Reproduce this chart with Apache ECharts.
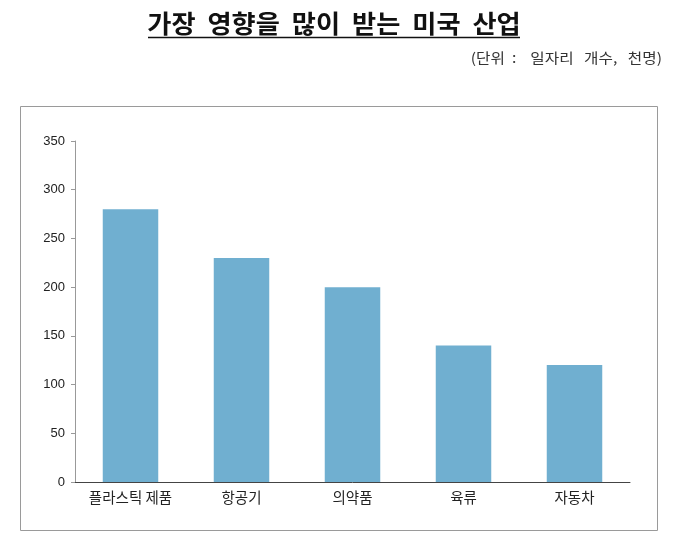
<!DOCTYPE html>
<html>
<head>
<meta charset="utf-8">
<script src="https://cdn.jsdelivr.net/npm/echarts@6/dist/echarts.min.js"></script>
<style>
  html, body { margin: 0; padding: 0; background: #fff; }
  #chart { width: 680px; height: 545px; }
</style>
</head>
<body>
<div id="chart"></div>
<script>
// Data
var categories = ['플라스틱 제품', '항공기', '의약품', '육류', '자동차'];
var jobs = [280, 230, 200, 140, 120];
var yTicks = [0, 350, 50];  // min, max, interval

var titleText = '가장  영향을  많이  받는  미국  산업';
var unitText = '(단위  :    일자리   개수,   천명)';

var krFont = '"Noto Sans CJK KR", "Noto Sans", sans-serif';

var chart = echarts.init(document.getElementById('chart'));

chart.setOption({
    animation: false,
    graphic: [{
        // title, slightly stretched like the original
        type: 'text',
        x: 334,
        y: 23,
        scaleX: 1.05,
        style: {
            text: titleText,
            font: 'bold 25px ' + krFont,
            fill: '#111',
            align: 'center',
            verticalAlign: 'middle'
        }
    }, {
        type: 'line',
        shape: { x1: 148, y1: 37.5, x2: 520, y2: 37.5 },
        style: { stroke: '#111', lineWidth: 1.5 }
    }, {
        // unit note
        type: 'text',
        x: 662,
        y: 58,
        scaleX: 1.12,
        style: {
            text: unitText,
            font: '14px ' + krFont,
            fill: '#333',
            align: 'right',
            verticalAlign: 'middle'
        }
    }, {
        type: 'rect',
        shape: { x: 20.5, y: 106.5, width: 637, height: 424 },
        style: { fill: 'none', stroke: '#9a9a9a', lineWidth: 1 },
        z: -1
    }],
    grid: {
        left: 75,
        right: 50,
        top: 141,
        bottom: 63
    },
    xAxis: {
        type: 'category',
        data: categories,
        axisLine: { lineStyle: { color: '#444', width: 1 } },
        axisTick: { show: false },
        axisLabel: {
            fontFamily: krFont,
            fontSize: 14.5,
            color: '#222',
            margin: 8
        }
    },
    yAxis: {
        type: 'value',
        min: yTicks[0],
        max: yTicks[1],
        interval: yTicks[2],
        axisLine: { show: true, lineStyle: { color: '#999' } },
        axisTick: { show: true, length: 4, lineStyle: { color: '#999' } },
        splitLine: { show: false },
        axisLabel: {
            fontFamily: '"Liberation Sans", Arial, sans-serif',
            fontSize: 13,
            color: '#222',
            margin: 10
        }
    },
    series: [{
        type: 'bar',
        data: jobs,
        barWidth: '50%',
        itemStyle: { color: '#70afd0' }
    }]
});
</script>
</body>
</html>
